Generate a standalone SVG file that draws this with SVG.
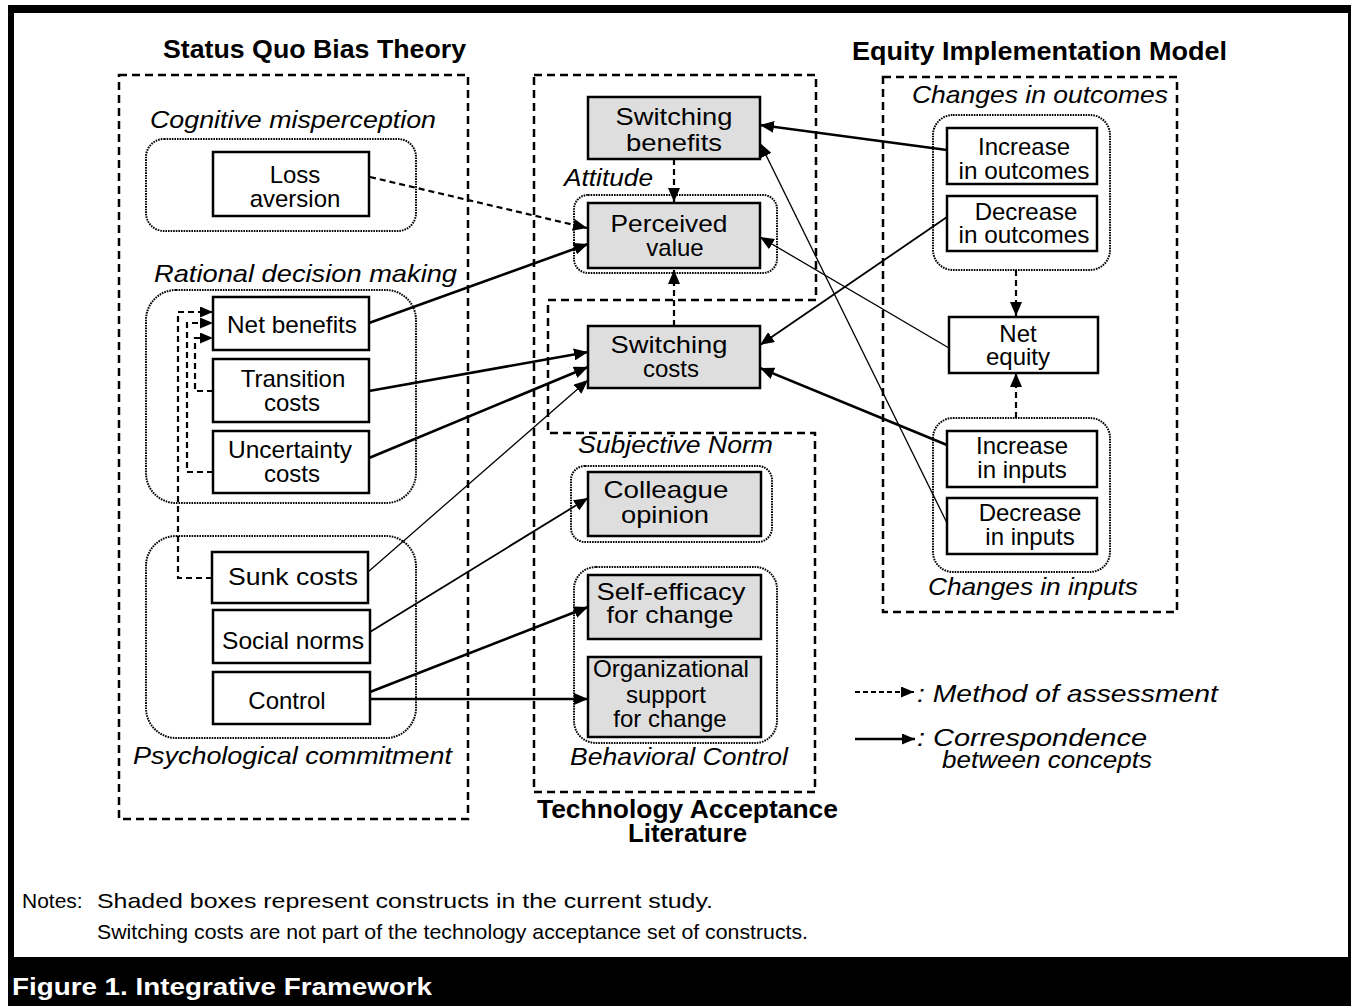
<svg xmlns="http://www.w3.org/2000/svg" width="1351" height="1006" viewBox="0 0 1351 1006">
<style>
text{font-family:"Liberation Sans",Arial,sans-serif;fill:#000}
.t{font-size:24px;text-anchor:middle}
.i{font-size:24px;font-style:italic}
.b{font-weight:bold;font-size:25px}
.box{fill:#fff;stroke:#000;stroke-width:2.5}
.sh{fill:#dedede;stroke:#000;stroke-width:2.5}
.grp{fill:none;stroke:#000;stroke-width:2.5;stroke-dasharray:8,5}
.dot{fill:none;stroke:#000;stroke-width:2;stroke-dasharray:1.6,1}
.thick{fill:none;stroke:#000;stroke-width:2.6}
.thin{fill:none;stroke:#000;stroke-width:1.3}
.dash{fill:none;stroke:#000;stroke-width:2.2;stroke-dasharray:6,4}
.note{font-size:21px}
</style>
<defs>
<marker id="ah" markerUnits="userSpaceOnUse" markerWidth="14" markerHeight="12" refX="14" refY="6" orient="auto"><path d="M0,0 L14,6 L0,12 Z" fill="#000"/></marker>
<marker id="as" markerUnits="userSpaceOnUse" markerWidth="13" markerHeight="11" refX="13" refY="5.5" orient="auto"><path d="M0,0 L13,5.5 L0,11 Z" fill="#000"/></marker>
</defs>

<!-- frame -->
<rect x="8" y="5" width="1343" height="1001" fill="#000"/>
<rect x="14" y="13" width="1334" height="944" fill="#fff"/>

<!-- titles -->
<text class="b" x="163" y="58" textLength="303" lengthAdjust="spacingAndGlyphs">Status Quo Bias Theory</text>
<text class="b" x="852" y="60" textLength="375" lengthAdjust="spacingAndGlyphs">Equity Implementation  Model</text>
<text class="b" x="537" y="818" textLength="301" lengthAdjust="spacingAndGlyphs">Technology Acceptance</text>
<text class="b" x="628" y="842" textLength="119" lengthAdjust="spacingAndGlyphs">Literature</text>

<!-- group containers -->
<g id="status-quo-bias">
<rect class="grp" x="119" y="75" width="349" height="744"/>
<text class="i" x="150" y="128" textLength="286" lengthAdjust="spacingAndGlyphs">Cognitive misperception</text>
<rect class="dot" x="146" y="139" width="270" height="92" rx="18"/>
<text class="i" x="154" y="282" textLength="303" lengthAdjust="spacingAndGlyphs">Rational  decision making</text>
<rect class="dot" x="146" y="290" width="270" height="213" rx="30"/>
<rect class="dot" x="146" y="536" width="270" height="202" rx="30"/>
<text class="i" x="133" y="764" textLength="319" lengthAdjust="spacingAndGlyphs">Psychological commitment</text>
</g>

<g id="technology-acceptance">
<path class="grp" d="M534,75 H816 V300 H548 V433 H815 V792 H534 Z"/>
<text class="i" x="564" y="186" textLength="89" lengthAdjust="spacingAndGlyphs">Attitude</text>
<rect class="dot" x="574" y="195" width="203" height="78" rx="14"/>
<text class="i" x="578" y="453" textLength="195" lengthAdjust="spacingAndGlyphs">Subjective Norm</text>
<rect class="dot" x="571" y="466" width="201" height="76" rx="14"/>
<rect class="dot" x="574" y="567" width="203" height="176" rx="22"/>
<text class="i" x="570" y="765" textLength="218" lengthAdjust="spacingAndGlyphs">Behavioral Control</text>
</g>

<g id="equity-implementation">
<rect class="grp" x="883" y="77" width="294" height="535"/>
<text class="i" x="912" y="103" textLength="256" lengthAdjust="spacingAndGlyphs">Changes in outcomes</text>
<rect class="dot" x="933" y="115" width="177" height="155" rx="20"/>
<rect class="dot" x="933" y="418" width="177" height="154" rx="20"/>
<text class="i" x="928" y="595" textLength="210" lengthAdjust="spacingAndGlyphs">Changes in inputs</text>
</g>

<!-- nodes -->
<g id="loss-aversion"><rect class="box" x="213" y="152" width="156" height="64"/><text class="t" x="295" y="183">Loss</text><text class="t" x="295" y="207">aversion</text></g>
<g id="net-benefits"><rect class="box" x="213" y="297" width="156" height="53"/><text class="t" x="292" y="333" textLength="130" lengthAdjust="spacingAndGlyphs">Net benefits</text></g>
<g id="transition-costs"><rect class="box" x="213" y="359" width="156" height="63"/><text class="t" x="293" y="387">Transition</text><text class="t" x="292" y="411">costs</text></g>
<g id="uncertainty-costs"><rect class="box" x="213" y="431" width="156" height="62"/><text class="t" x="290" y="458" textLength="124" lengthAdjust="spacingAndGlyphs">Uncertainty</text><text class="t" x="292" y="482">costs</text></g>
<g id="sunk-costs"><rect class="box" x="212" y="552" width="156" height="51"/><text class="t" x="293" y="585" textLength="130" lengthAdjust="spacingAndGlyphs">Sunk costs</text></g>
<g id="social-norms"><rect class="box" x="213" y="610" width="157" height="53"/><text class="t" x="293" y="649" textLength="142" lengthAdjust="spacingAndGlyphs">Social norms</text></g>
<g id="control"><rect class="box" x="213" y="672" width="157" height="52"/><text class="t" x="287" y="709">Control</text></g>

<g id="switching-benefits"><rect class="sh" x="588" y="97" width="172" height="62"/><text class="t" x="674" y="125" textLength="117" lengthAdjust="spacingAndGlyphs">Switching</text><text class="t" x="674" y="151" textLength="96" lengthAdjust="spacingAndGlyphs">benefits</text></g>
<g id="perceived-value"><rect class="sh" x="588" y="203" width="172" height="65"/><text class="t" x="669" y="232" textLength="117" lengthAdjust="spacingAndGlyphs">Perceived</text><text class="t" x="675" y="256">value</text></g>
<g id="switching-costs"><rect class="sh" x="588" y="326" width="172" height="62"/><text class="t" x="669" y="353" textLength="117" lengthAdjust="spacingAndGlyphs">Switching</text><text class="t" x="671" y="377">costs</text></g>
<g id="colleague-opinion"><rect class="sh" x="588" y="472" width="173" height="64"/><text class="t" x="666" y="498" textLength="125" lengthAdjust="spacingAndGlyphs">Colleague</text><text class="t" x="665" y="523" textLength="88" lengthAdjust="spacingAndGlyphs">opinion</text></g>
<g id="self-efficacy"><rect class="sh" x="588" y="575" width="173" height="64"/><text class="t" x="671" y="600" textLength="149" lengthAdjust="spacingAndGlyphs">Self-efficacy</text><text class="t" x="670" y="623" textLength="127" lengthAdjust="spacingAndGlyphs">for change</text></g>
<g id="organizational-support"><rect class="sh" x="588" y="657" width="173" height="80"/><text class="t" x="671" y="677" textLength="156" lengthAdjust="spacingAndGlyphs">Organizational</text><text class="t" x="666" y="703">support</text><text class="t" x="670" y="727">for change</text></g>

<g id="increase-outcomes"><rect class="box" x="947" y="128" width="150" height="56"/><text class="t" x="1024" y="155">Increase</text><text class="t" x="1024" y="179" textLength="131" lengthAdjust="spacingAndGlyphs">in outcomes</text></g>
<g id="decrease-outcomes"><rect class="box" x="947" y="196" width="150" height="55"/><text class="t" x="1026" y="220">Decrease</text><text class="t" x="1024" y="243" textLength="131" lengthAdjust="spacingAndGlyphs">in outcomes</text></g>
<g id="net-equity"><rect class="box" x="949" y="317" width="149" height="56"/><text class="t" x="1018" y="342">Net</text><text class="t" x="1018" y="365">equity</text></g>
<g id="increase-inputs"><rect class="box" x="947" y="431" width="150" height="56"/><text class="t" x="1022" y="454">Increase</text><text class="t" x="1022" y="478">in inputs</text></g>
<g id="decrease-inputs"><rect class="box" x="947" y="498" width="150" height="56"/><text class="t" x="1030" y="521">Decrease</text><text class="t" x="1030" y="545">in inputs</text></g>

<!-- connectors -->
<g id="connectors">
<path class="dash" d="M213,391 H195 V338 H213" marker-end="url(#as)"/>
<path class="dash" d="M213,472 H187 V323 H213" marker-end="url(#as)"/>
<path class="dash" d="M212,578 H178 V312 H213" marker-end="url(#as)"/>
<path class="dash" d="M370,177 L587,228" marker-end="url(#ah)"/>
<path class="dash" d="M674,159 V202" marker-end="url(#ah)"/>
<path class="dash" d="M674,326 V270" marker-end="url(#ah)"/>
<path class="dash" d="M1016,270 V316" marker-end="url(#ah)"/>
<path class="dash" d="M1016,418 V373" marker-end="url(#ah)"/>

<path class="thick" d="M369,323 L588,244" marker-end="url(#ah)"/>
<path class="thick" d="M369,391 L588,352" marker-end="url(#ah)"/>
<path class="thick" d="M369,458 L588,367" marker-end="url(#ah)"/>
<path class="thin" d="M368,572 L588,380" marker-end="url(#ah)"/>
<path class="thin" style="stroke-width:1.8" d="M370,632 L588,498" marker-end="url(#ah)"/>
<path class="thick" d="M370,692 L588,607" marker-end="url(#ah)"/>
<path class="thick" d="M370,699 L588,699" marker-end="url(#ah)"/>

<path class="thick" d="M947,150 L760,125" marker-end="url(#ah)"/>
<path class="thin" d="M947,523 L760,143" marker-end="url(#ah)"/>
<path class="thin" d="M949,348 L760,237" marker-end="url(#ah)"/>
<path class="thin" style="stroke-width:1.8" d="M947,217 L760,345" marker-end="url(#ah)"/>
<path class="thick" d="M947,445 L760,368" marker-end="url(#ah)"/>
</g>

<!-- legend -->
<g id="legend">
<path class="dash" style="stroke-width:2;stroke-dasharray:5,3" d="M855,692 H914" marker-end="url(#as)"/>
<text class="i" x="917" y="702" textLength="301" lengthAdjust="spacingAndGlyphs">: Method of assessment</text>
<path class="thick" d="M855,739 H915" marker-end="url(#as)"/>
<text class="i" x="917" y="746" textLength="230" lengthAdjust="spacingAndGlyphs">: Correspondence</text>
<text class="i" x="942" y="768" textLength="210" lengthAdjust="spacingAndGlyphs">between concepts</text>
</g>

<!-- notes -->
<text class="note" x="22" y="908">Notes:</text>
<text class="note" x="97" y="908" textLength="616" lengthAdjust="spacingAndGlyphs">Shaded boxes represent constructs in the current study.</text>
<text class="note" x="97" y="939" textLength="711" lengthAdjust="spacingAndGlyphs">Switching costs are not part of the technology acceptance set of constructs.</text>
<text x="12" y="995" style="font-size:24px;font-weight:bold;fill:#fff" textLength="420" lengthAdjust="spacingAndGlyphs">Figure 1.  Integrative Framework</text>
</svg>
